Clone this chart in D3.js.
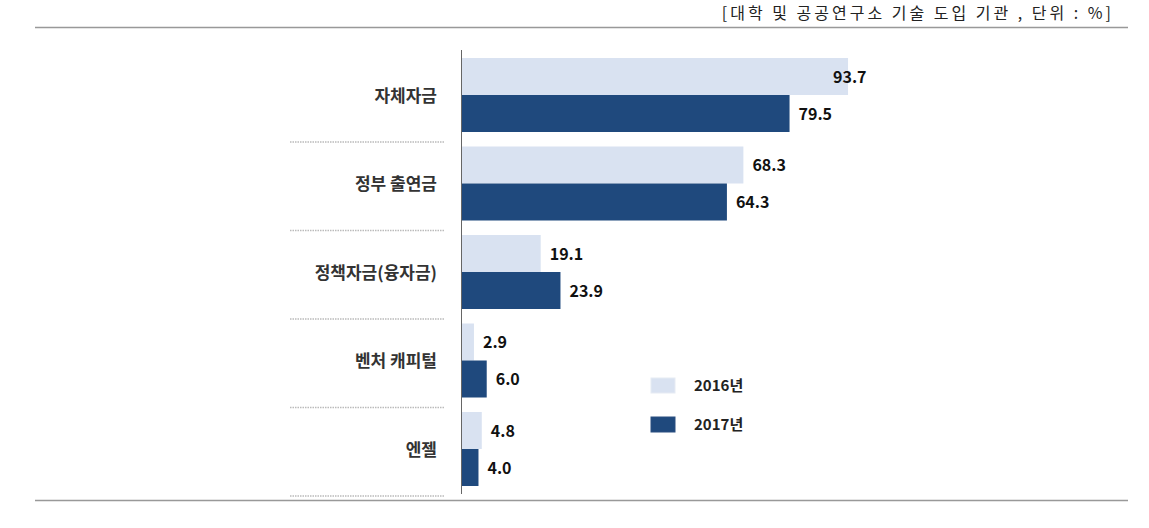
<!DOCTYPE html>
<html>
<head>
<meta charset="utf-8">
<script src="https://cdn.jsdelivr.net/npm/d3@7"></script>
<style>
  body { margin: 0; background: #fff; }
  svg { display: block; }
</style>
</head>
<body>
<div id="chart"></div>
<script>
const categories = ['자체자금', '정부 출연금', '정책자금(융자금)', '벤처 캐피털', '엔젤'];
const years = ['2016년', '2017년'];
const values2016 = [93.7, 68.3, 19.1, 2.9, 4.8];
const values2017 = [79.5, 64.3, 23.9, 6.0, 4.0];

const colors = ['#d9e2f1', '#1f497d'];
const W = 1149, H = 528;
const font = "'Noto Sans CJK KR', 'Noto Sans', sans-serif";

const svg = d3.select('#chart')
    .append('svg')
    .attr('width', W)
    .attr('height', H);

// header and rules
svg.append('text')
    .attr('x', 1114)
    .attr('y', 19)
    .attr('text-anchor', 'end')
    .style('font-family', font)
    .style('font-size', '16px')
    .style('letter-spacing', '3px')
    .style('fill', '#222')
    .text('[대학 및 공공연구소 기술 도입 기관 , 단위 : %]');

svg.append('line')
    .attr('x1', 35).attr('x2', 1128)
    .attr('y1', 27.5).attr('y2', 27.5)
    .style('stroke', '#999').style('stroke-width', 1.5);

svg.append('line')
    .attr('x1', 35).attr('x2', 1128)
    .attr('y1', 500.5).attr('y2', 500.5)
    .style('stroke', '#999').style('stroke-width', 1.5);

const x0 = 462;
const x = d3.scaleLinear()
    .domain([0, 100])
    .range([x0, x0 + 412]);

const y = d3.scaleBand()
    .domain(categories)
    .range([53.5, 496]);

const yInner = d3.scaleBand()
    .domain(years)
    .range([4.5, 78.5]);

const rows = categories.map((c, i) => ({
    cat: c,
    vals: [values2016[i], values2017[i]]
}));

const groups = svg.selectAll('g.grp')
    .data(rows)
    .enter()
    .append('g')
    .attr('class', 'grp')
    .attr('transform', (d) => `translate(0, ${y(d.cat)})`);

groups.selectAll('rect')
    .data((d) => d.vals.map((v, j) => ({ v: v, yr: years[j], j: j })))
    .enter()
    .append('rect')
    .attr('x', x(0))
    .attr('y', (d) => yInner(d.yr))
    .attr('width', (d) => x(d.v) - x(0))
    .attr('height', yInner.bandwidth())
    .style('fill', (d) => colors[d.j]);

// labels sit right of the bar end, but not past the plot edge
groups.selectAll('text.val')
    .data((d) => d.vals.map((v, j) => ({ v: v, yr: years[j] })))
    .enter()
    .append('text')
    .attr('class', 'val')
    .attr('x', (d) => Math.min(x(d.v) + 9, 833))
    .attr('y', (d) => yInner(d.yr) + yInner.bandwidth() / 2 + 6)
    .style('font-family', font)
    .style('font-size', '16px')
    .style('font-weight', 'bold')
    .style('fill', '#111')
    .text((d) => d.v.toFixed(1));

// category labels
groups.append('text')
    .attr('x', 437)
    .attr('y', 48)
    .attr('text-anchor', 'end')
    .style('font-family', font)
    .style('font-size', '17px')
    .style('font-weight', 'bold')
    .style('fill', '#333')
    .text((d) => d.cat);

// dotted separators
groups.append('line')
    .attr('x1', 290).attr('x2', 445)
    .attr('y1', y.bandwidth()).attr('y2', y.bandwidth())
    .style('stroke', '#bbb')
    .style('stroke-width', 1.5)
    .style('stroke-dasharray', '1.5,1');

// axis line
svg.append('line')
    .attr('x1', 461.5).attr('x2', 461.5)
    .attr('y1', 50).attr('y2', 494)
    .style('stroke', '#666').style('stroke-width', 1);

// legend
const legend = svg.selectAll('g.leg')
    .data(years)
    .enter()
    .append('g')
    .attr('class', 'leg')
    .attr('transform', (d, i) => `translate(651, ${378 + i * 39})`);

legend.append('rect')
    .attr('width', 24)
    .attr('height', 15)
    .style('fill', (d, i) => colors[i])
    .style('stroke', (d, i) => i === 0 ? '#e6ebf3' : '#2a4f80')
    .style('stroke-width', 1);

legend.append('text')
    .attr('x', 43)
    .attr('y', 13)
    .style('font-family', font)
    .style('font-size', '15px')
    .style('font-weight', 'bold')
    .style('fill', '#222')
    .text((d) => d);
</script>
</body>
</html>
